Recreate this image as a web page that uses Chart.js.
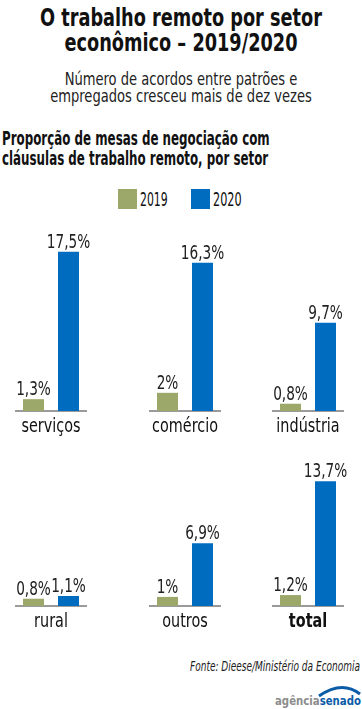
<!DOCTYPE html>
<html>
<head>
<meta charset="utf-8">
<script src="https://cdn.jsdelivr.net/npm/chart.js@4"></script>
<style>
  html, body { margin: 0; padding: 0; background: #fff; }
  body { width: 362px; height: 709px; position: relative; overflow: hidden;
         font-family: "Liberation Sans Narrow", "DejaVu Sans Condensed", sans-serif; color: #111; }
  .abs { position: absolute; white-space: nowrap; }
  #titulo { left: 181px; top: 5px; text-align: center; font-weight: bold; font-size: 25px; line-height: 25px; }
  #sub { left: 181px; top: 70px; text-align: center; font-size: 18px; line-height: 17px; color: #222; }
  #secao { left: 2px; top: 128px; font-size: 19px; line-height: 20px; font-weight: bold; }
  .sq { width: 19px; height: 20px; top: 189px; }
  .leg { top: 189px; font-size: 19px; line-height: 20px; }
  canvas { position: absolute; }
  #fonte { left: 190px; top: 657px; font-style: italic; font-size: 14px; line-height: 18px; color: #222; }
  #logo { left: 275px; top: 694px; font-family: "DejaVu Sans", sans-serif; font-weight: bold; font-size: 13px; line-height: 14px; }
  #arco { position: absolute; left: 316px; top: 684px; }
</style>
</head>
<body>
<div id="titulo" class="abs" data-w="282" data-o="center">O trabalho remoto por setor<br>econômico – 2019/2020</div>
<div id="sub" class="abs" data-w="262" data-o="center">Número de acordos entre patrões e<br>empregados cresceu mais de dez vezes</div>
<div id="secao" class="abs" data-w="268" data-o="left">Proporção de mesas de negociação com<br>cláusulas de trabalho remoto, por setor</div>
<div class="abs sq" style="left:118px;background:#9ba86a"></div>
<div class="abs leg" style="left:140px" data-w="28" data-o="left">2019</div>
<div class="abs sq" style="left:191px;background:#006cbf"></div>
<div class="abs leg" style="left:213px" data-w="29" data-o="left">2020</div>

<canvas id="c0"></canvas>
<canvas id="c1"></canvas>
<canvas id="c2"></canvas>
<canvas id="c3"></canvas>
<canvas id="c4"></canvas>
<canvas id="c5"></canvas>

<div id="fonte" class="abs" data-w="170" data-o="left">Fonte: Dieese/Ministério da Economia</div>
<svg id="arco" width="46" height="14"><path d="M3 12 Q 26 -4 44 10" stroke="#0b5ca8" stroke-width="3" fill="none"/></svg>
<div id="logo" class="abs" data-w="86" data-o="left"><span style="color:#8c8c8c">agência</span><span style="color:#0b5ca8">senado</span></div>

<script>
const setores = ["serviços", "comércio", "indústria", "rural", "outros", "total"];
const anos = ["2019", "2020"];
const valores2019 = [1.3, 2, 0.8, 0.8, 1, 1.2];
const valores2020 = [17.5, 16.3, 9.7, 1.1, 6.9, 13.7];

const FONTE = '"Liberation Sans Narrow", "DejaVu Sans Condensed", sans-serif';
const VERDE = "#9ba86a";
const AZUL = "#006cbf";
const APERTO = 0.8; // fonte condensada

const posX = [16, 150, 273, 16, 150, 273];
const posY = [229, 229, 229, 424, 424, 424];

function fmt(v) {
  return String(v).replace(".", ",") + "%";
}

// ajusta a largura dos textos para imitar a fonte condensada
document.querySelectorAll("[data-w]").forEach(el => {
  const k = parseFloat(el.dataset.w) / el.offsetWidth;
  const centro = el.dataset.o === "center";
  el.style.transformOrigin = centro ? "0 0" : "left top";
  el.style.transform = (centro ? "translateX(-50%) " : "") + "scaleX(" + k + ")";
  if (centro) {
    el.style.transform = "scaleX(" + k + ") translateX(-50%)";
  }
});

function textoApertado(ctx, txt, x, y) {
  ctx.save();
  ctx.translate(x, y);
  ctx.scale(APERTO, 1);
  ctx.fillText(txt, 0, 0);
  ctx.restore();
}

// rótulos de valor acima das barras e nome do setor embaixo
const rotulos = {
  id: "rotulos",
  afterDatasetsDraw(chart) {
    const ctx = chart.ctx;
    const meta = chart.getDatasetMeta(0);
    const area = chart.chartArea;
    const xs = chart.scales.x;
    ctx.save();
    ctx.font = "19px " + FONTE;
    ctx.fillStyle = "#222";
    ctx.textAlign = "center";
    ctx.textBaseline = "alphabetic";
    meta.data.forEach((bar, i) => {
      textoApertado(ctx, fmt(chart.data.datasets[0].data[i]), bar.x, bar.y - 4);
    });
    const nome = chart.options.plugins.rotulos.setor;
    ctx.font = (nome === "total" ? "bold " : "") + "20px " + FONTE;
    ctx.fillStyle = "#111";
    ctx.textBaseline = "middle";
    textoApertado(ctx, nome, (xs.left + xs.right) / 2, area.bottom + 16);
    ctx.restore();
  }
};

setores.forEach((setor, i) => {
  const cv = document.getElementById("c" + i);
  cv.style.left = (posX[i] - 20) + "px";
  cv.style.top = posY[i] + "px";
  cv.width = 110;
  cv.height = 212;
  cv.style.width = "110px";
  cv.style.height = "212px";

  new Chart(cv, {
    type: "bar",
    data: {
      labels: anos,
      datasets: [{
        data: [valores2019[i], valores2020[i]],
        backgroundColor: [VERDE, AZUL],
        barPercentage: 0.6,
        categoryPercentage: 1
      }]
    },
    options: {
      responsive: false,
      animation: false,
      layout: { padding: { left: 20, right: 20, top: 0, bottom: 30 } },
      plugins: {
        legend: { display: false },
        tooltip: { enabled: false },
        rotulos: { setor: setor }
      },
      scales: {
        x: {
          grid: { display: false, drawTicks: false },
          ticks: { display: false },
          border: { display: true, color: "#9a9a9a", width: 2 }
        },
        y: { display: false, min: 0, max: 20 }
      }
    },
    plugins: [rotulos]
  });
});
</script>
</body>
</html>
